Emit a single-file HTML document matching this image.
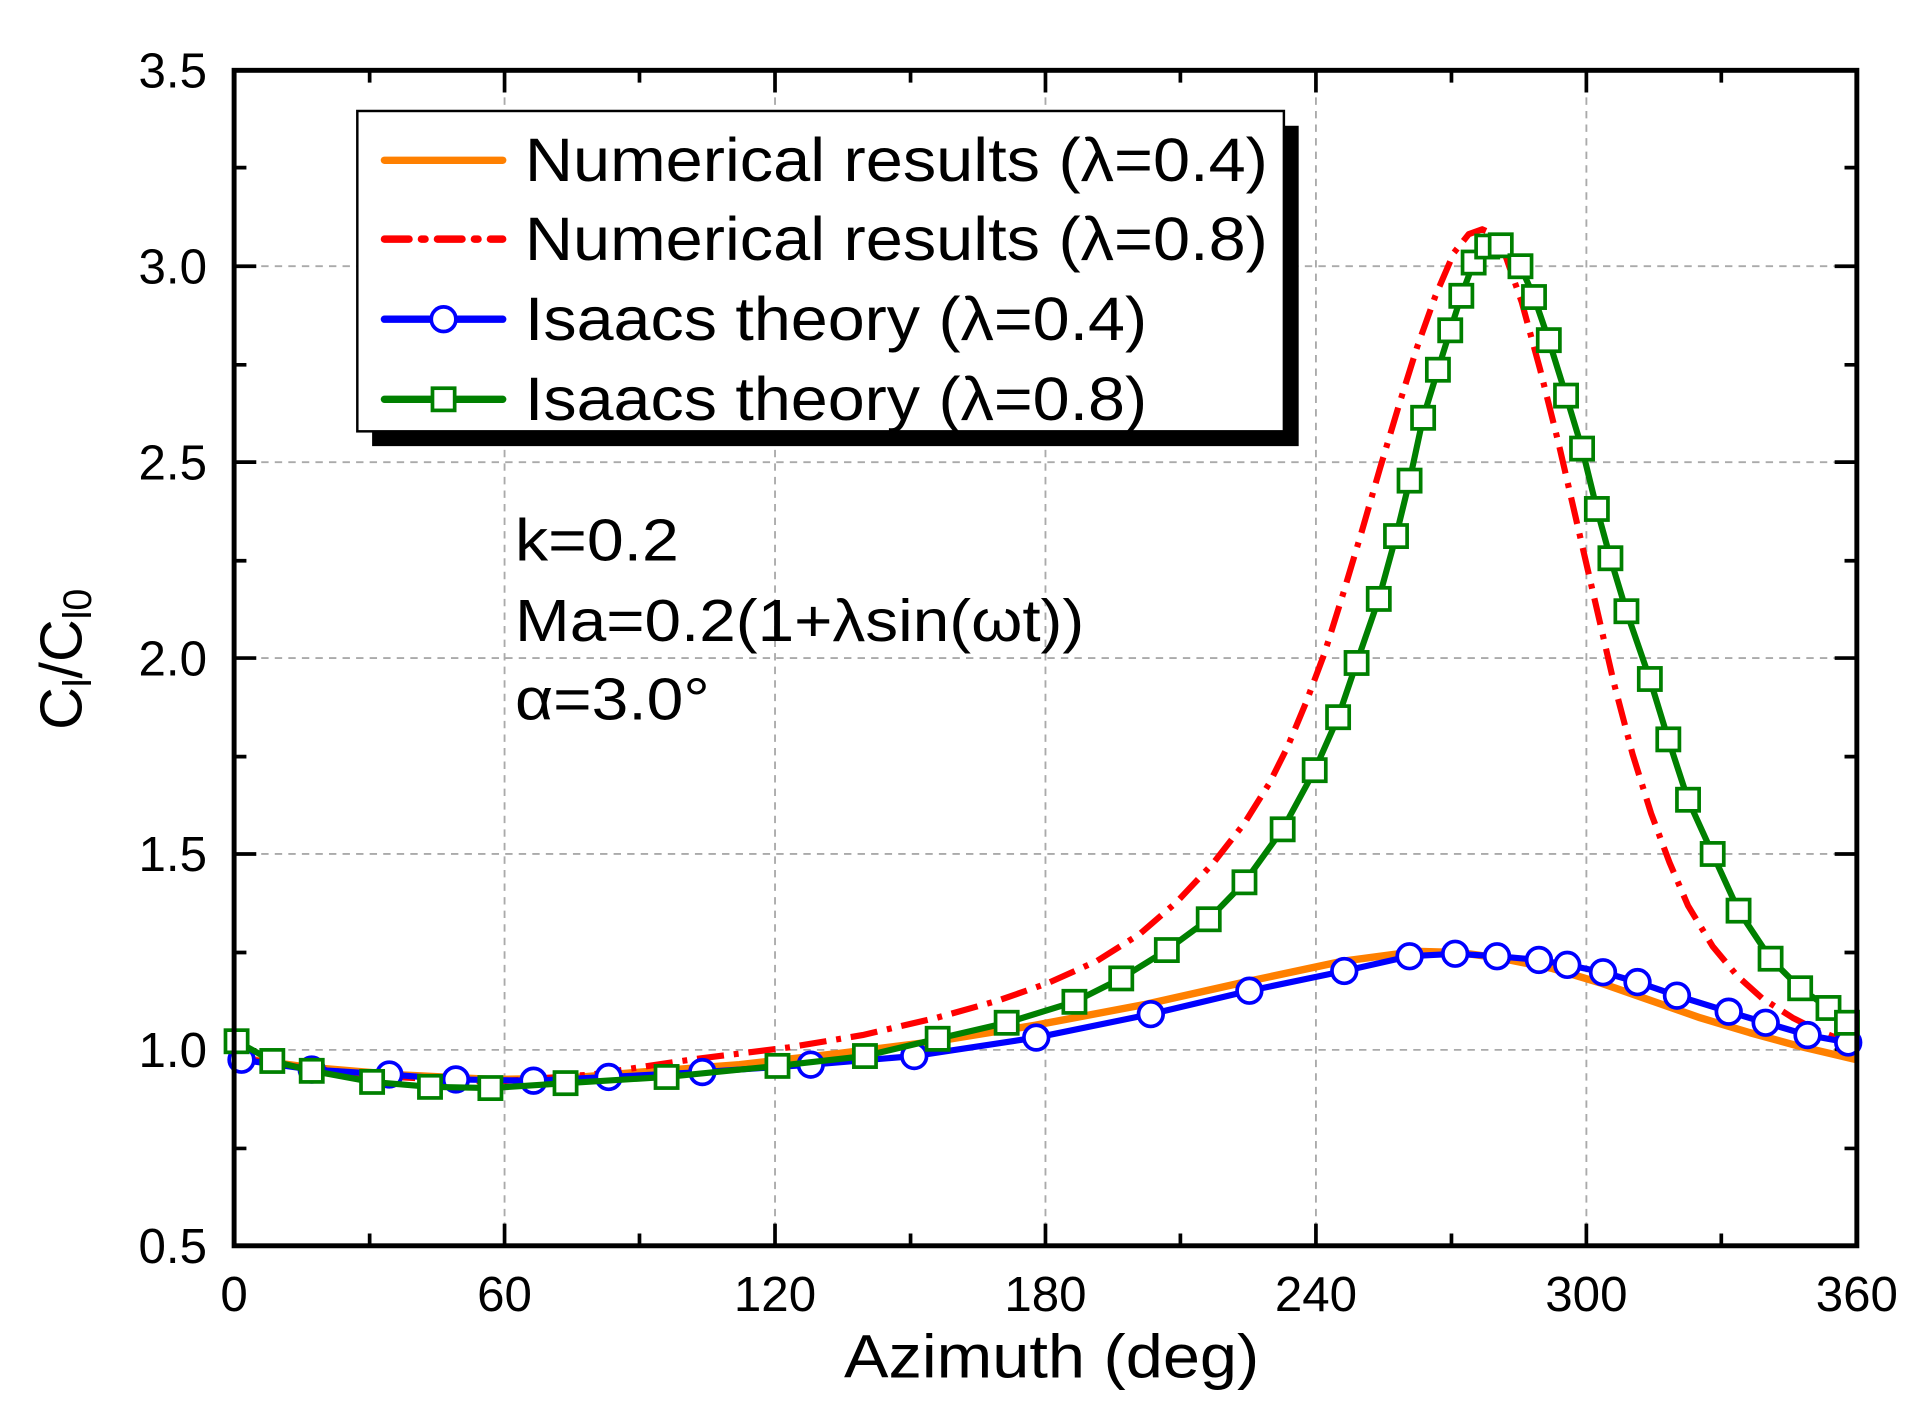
<!DOCTYPE html>
<html><head><meta charset="utf-8"><style>html,body{margin:0;padding:0;background:#fff}svg{display:block}</style></head>
<body>
<svg width="1932" height="1427" viewBox="0 0 1568 1158" xmlns="http://www.w3.org/2000/svg" font-family="Liberation Sans, Arial, sans-serif">
<rect width="1568" height="1158" fill="#fff"/>
<g stroke="#aaa" stroke-width="1.5" stroke-dasharray="6,5">
<line x1="409.5" y1="57" x2="409.5" y2="1011"/><line x1="629" y1="57" x2="629" y2="1011"/><line x1="848.5" y1="57" x2="848.5" y2="1011"/><line x1="1068" y1="57" x2="1068" y2="1011"/><line x1="1287.5" y1="57" x2="1287.5" y2="1011"/>
<line x1="190" y1="216" x2="1507" y2="216"/><line x1="190" y1="375" x2="1507" y2="375"/><line x1="190" y1="534" x2="1507" y2="534"/><line x1="190" y1="693" x2="1507" y2="693"/><line x1="190" y1="852" x2="1507" y2="852"/>
</g>
<g stroke="#000" stroke-width="3">
<path d="M409.5 1011v-18M629 1011v-18M848.5 1011v-18M1068 1011v-18M1287.5 1011v-18M300 1011v-10M519 1011v-10M739 1011v-10M958 1011v-10M1178 1011v-10M1397 1011v-10"/>
<path d="M409.5 57v18M629 57v18M848.5 57v18M1068 57v18M1287.5 57v18M300 57v10M519 57v10M739 57v10M958 57v10M1178 57v10M1397 57v10"/>
<path d="M190 216h18M190 375h18M190 534h18M190 693h18M190 852h18M190 136h10M190 296h10M190 455h10M190 614h10M190 773h10M190 932h10"/>
<path d="M1507 216h-18M1507 375h-18M1507 534h-18M1507 693h-18M1507 852h-18M1507 136h-10M1507 296h-10M1507 455h-10M1507 614h-10M1507 773h-10M1507 932h-10"/>
</g>
<polyline fill="none" stroke="#ff8000" stroke-width="6" stroke-linejoin="round" points="190,858 250,866 320,872 400,876 460,875 520,870 600,864 680,855 760,845 840,832 930,815 1010,797 1090,780 1150,772 1185,773 1220,778 1260,786 1300,798 1340,812 1380,826 1420,838 1460,849 1507,860"/>
<polyline fill="none" stroke="#ff0000" stroke-width="5" stroke-dasharray="22,8,4,8" stroke-linejoin="round" points="190,858 250,867 320,874 400,878 480,872 560,860 640,850 700,840 760,826 810,812 850,798 890,780 925,758 955,732 985,700 1010,668 1030,636 1045,606 1060,570 1075,530 1090,482 1105,432 1120,380 1135,330 1150,282 1165,240 1180,205 1192,190 1203,186 1212,190 1222,208 1235,245 1250,300 1265,360 1280,425 1295,490 1310,555 1325,612 1340,660 1355,700 1370,735 1390,768 1410,792 1430,810 1455,826 1475,836 1490,842"/>
<polyline fill="none" stroke="#0000ff" stroke-width="5" stroke-linejoin="round" points="196,860 253,868 316,872 370,876 433,877 494,874 570,870 658,864 742,857 841,842 934,823 1014,804 1091,788 1144,776 1181,774 1215,776 1249,779 1272,783 1301,789 1329,797 1361,808 1403,821 1433,830 1467,840 1500,846"/>
<g fill="#fff" stroke="#0000ff" stroke-width="3">
<circle cx="196" cy="860" r="10"/><circle cx="253" cy="868" r="10"/><circle cx="316" cy="872" r="10"/><circle cx="370" cy="876" r="10"/><circle cx="433" cy="877" r="10"/><circle cx="494" cy="874" r="10"/><circle cx="570" cy="870" r="10"/><circle cx="658" cy="864" r="10"/><circle cx="742" cy="857" r="10"/><circle cx="841" cy="842" r="10"/><circle cx="934" cy="823" r="10"/><circle cx="1014" cy="804" r="10"/><circle cx="1091" cy="788" r="10"/><circle cx="1144" cy="776" r="10"/><circle cx="1181" cy="774" r="10"/><circle cx="1215" cy="776" r="10"/><circle cx="1249" cy="779" r="10"/><circle cx="1272" cy="783" r="10"/><circle cx="1301" cy="789" r="10"/><circle cx="1329" cy="797" r="10"/><circle cx="1361" cy="808" r="10"/><circle cx="1403" cy="821" r="10"/><circle cx="1433" cy="830" r="10"/><circle cx="1467" cy="840" r="10"/><circle cx="1500" cy="846" r="10"/>
</g>
<polyline fill="none" stroke="#008000" stroke-width="5" stroke-linejoin="round" points="192,845 221,861 253,869 302,878 349,882 398,883 459,879 541,874 631,865 702,857 761,843 817,830 872,813 910,794 947,771 981,746 1010,716 1041,673 1067,625 1086,582 1101,538 1119,486 1133,435 1144,390 1155,339 1167,300 1177,268 1186,240 1196,213 1207,200 1218,199 1234,216 1245,241 1257,276 1271,321 1284,364 1296,413 1307,453 1320,496 1339,551 1354,600 1370,649 1390,693 1411,739 1437,778 1461,802 1484,818 1499,830"/>
<g fill="#fff" stroke="#008000" stroke-width="3">
<rect x="183" y="836" width="18" height="18"/><rect x="212" y="852" width="18" height="18"/><rect x="244" y="860" width="18" height="18"/><rect x="293" y="869" width="18" height="18"/><rect x="340" y="873" width="18" height="18"/><rect x="389" y="874" width="18" height="18"/><rect x="450" y="870" width="18" height="18"/><rect x="532" y="865" width="18" height="18"/><rect x="622" y="856" width="18" height="18"/><rect x="693" y="848" width="18" height="18"/><rect x="752" y="834" width="18" height="18"/><rect x="808" y="821" width="18" height="18"/><rect x="863" y="804" width="18" height="18"/><rect x="901" y="785" width="18" height="18"/><rect x="938" y="762" width="18" height="18"/><rect x="972" y="737" width="18" height="18"/><rect x="1001" y="707" width="18" height="18"/><rect x="1032" y="664" width="18" height="18"/><rect x="1058" y="616" width="18" height="18"/><rect x="1077" y="573" width="18" height="18"/><rect x="1092" y="529" width="18" height="18"/><rect x="1110" y="477" width="18" height="18"/><rect x="1124" y="426" width="18" height="18"/><rect x="1135" y="381" width="18" height="18"/><rect x="1146" y="330" width="18" height="18"/><rect x="1158" y="291" width="18" height="18"/><rect x="1168" y="259" width="18" height="18"/><rect x="1177" y="231" width="18" height="18"/><rect x="1187" y="204" width="18" height="18"/><rect x="1198" y="191" width="18" height="18"/><rect x="1209" y="190" width="18" height="18"/><rect x="1225" y="207" width="18" height="18"/><rect x="1236" y="232" width="18" height="18"/><rect x="1248" y="267" width="18" height="18"/><rect x="1262" y="312" width="18" height="18"/><rect x="1275" y="355" width="18" height="18"/><rect x="1287" y="404" width="18" height="18"/><rect x="1298" y="444" width="18" height="18"/><rect x="1311" y="487" width="18" height="18"/><rect x="1330" y="542" width="18" height="18"/><rect x="1345" y="591" width="18" height="18"/><rect x="1361" y="640" width="18" height="18"/><rect x="1381" y="684" width="18" height="18"/><rect x="1402" y="730" width="18" height="18"/><rect x="1428" y="769" width="18" height="18"/><rect x="1452" y="793" width="18" height="18"/><rect x="1475" y="809" width="18" height="18"/><rect x="1490" y="821" width="18" height="18"/>
</g>
<rect x="190" y="57" width="1317" height="954" fill="none" stroke="#000" stroke-width="4"/>
<rect x="302" y="102" width="752" height="260" fill="#000"/>
<rect x="290" y="90" width="752" height="260" fill="#fff" stroke="#000" stroke-width="2"/>
<line x1="312" y1="130" x2="408" y2="130" stroke="#ff8000" stroke-width="6" stroke-linecap="round"/>
<line x1="312" y1="194" x2="408" y2="194" stroke="#ff0000" stroke-width="6" stroke-dasharray="20,10,3,10" stroke-linecap="round"/>
<line x1="312" y1="259" x2="408" y2="259" stroke="#0000ff" stroke-width="6" stroke-linecap="round"/>
<circle cx="360" cy="259" r="10" fill="#fff" stroke="#0000ff" stroke-width="3"/>
<line x1="312" y1="324" x2="408" y2="324" stroke="#008000" stroke-width="6" stroke-linecap="round"/>
<rect x="351" y="315" width="18" height="18" fill="#fff" stroke="#008000" stroke-width="3"/>
<g font-size="50" fill="#000" lengthAdjust="spacingAndGlyphs">
<text x="426" y="147" textLength="603" lengthAdjust="spacingAndGlyphs">Numerical results (λ=0.4)</text>
<text x="426" y="211" textLength="603" lengthAdjust="spacingAndGlyphs">Numerical results (λ=0.8)</text>
<text x="426" y="276" textLength="505" lengthAdjust="spacingAndGlyphs">Isaacs theory (λ=0.4)</text>
<text x="426" y="341" textLength="505" lengthAdjust="spacingAndGlyphs">Isaacs theory (λ=0.8)</text>
</g>
<g font-size="48" fill="#000">
<text x="418" y="455" textLength="133" lengthAdjust="spacingAndGlyphs">k=0.2</text>
<text x="418" y="520" textLength="462" lengthAdjust="spacingAndGlyphs">Ma=0.2(1+λsin(ωt))</text>
<text x="418" y="584" textLength="158" lengthAdjust="spacingAndGlyphs">α=3.0°</text>
</g>
<g font-size="40" fill="#000" text-anchor="end">
<text x="168" y="71">3.5</text><text x="168" y="230">3.0</text><text x="168" y="389">2.5</text><text x="168" y="548">2.0</text><text x="168" y="707">1.5</text><text x="168" y="866">1.0</text><text x="168" y="1025">0.5</text>
</g>
<g font-size="40" fill="#000" text-anchor="middle">
<text x="190" y="1064">0</text><text x="409.5" y="1064">60</text><text x="629" y="1064">120</text><text x="848.5" y="1064">180</text><text x="1068" y="1064">240</text><text x="1287.5" y="1064">300</text><text x="1507" y="1064">360</text>
</g>
<text x="685" y="1118" font-size="50" textLength="337" lengthAdjust="spacingAndGlyphs">Azimuth (deg)</text>
<text transform="translate(66,535) rotate(-90)" font-size="48" text-anchor="middle">C<tspan font-size="32" dy="8">l</tspan><tspan dy="-8">/C</tspan><tspan font-size="32" dy="8">l0</tspan></text>
</svg>
</body></html>
